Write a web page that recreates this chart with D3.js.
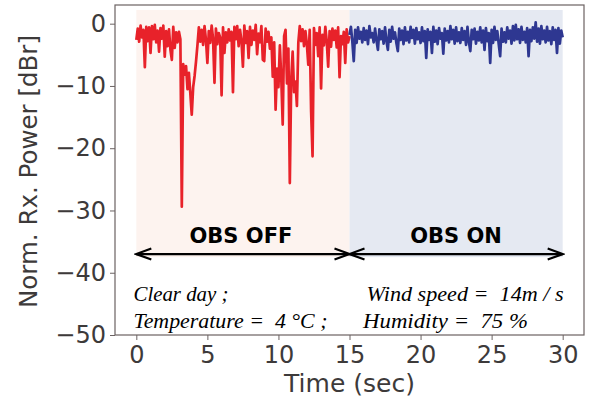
<!DOCTYPE html>
<html>
<head>
<meta charset="utf-8">
<script src="https://cdn.jsdelivr.net/npm/d3@7"></script>
<style>
  html, body { margin: 0; padding: 0; background: #fff; }
  svg { display: block; }
</style>
</head>
<body>
<svg id="chart" width="589" height="400"></svg>
<script>
// ---------- data ----------
const timeStep = 0.1;            // seconds between samples
const obsOffStart = 0;           // OBS OFF series starts at t = 0 s
const obsOnStart = 15;           // OBS ON series starts at t = 15 s

// Normalised Rx power [dBr], OBS OFF (t = 0 ... 15 s)
const obsOffPower = [
  -2.6, -0.8, -2.9, -0.3, -2.2, -1.0, -7.0, -0.5, -2.8, -0.6,
  -4.7, -0.4, -2.5, -0.2, -3.0, -1.1, -4.5, -0.7, -2.4, -0.3,
  -5.3, -1.2, -3.6, -0.9, -4.2, -5.8, -0.5, -3.9, -1.4, -3.0,
  -1.3, -2.5, -29.4, -6.5, -8.2, -6.8, -10.5, -7.9, -11.2, -14.6,
  -10.2, -8.4, -6.1, -3.5, -0.6, -2.9, -1.0, -3.4, -0.4, -2.6,
  -6.3, -1.2, -3.1, -0.3, -2.4, -9.5, -0.8, -3.3, -1.5, -2.2,
  -11.5, -0.6, -4.7, -1.4, -3.0, -0.9, -2.7, -1.3, -11.0, -0.5,
  -2.5, -0.4, -3.6, -1.0, -2.8, -6.9, -0.3, -3.1, -1.2, -5.5,
  -0.5, -3.4, -1.1, -2.6, -0.2, -4.9, -1.6, -3.0, -0.4, -5.8,
  -6.0, -0.8, -2.9, -1.3, -4.0, -2.2, -8.5, -3.0, -13.8, -7.2,
  -10.2, -3.5, -8.8, -16.2, -2.0, -1.0, -9.6, -4.0, -25.6, -8.9,
  -4.5, -11.0, -9.3, -13.2, -3.0, -0.4, -2.8, -0.9, -3.6, -1.2,
  -3.3, -6.6, -1.0, -14.1, -21.3, -0.7, -3.4, -1.5, -5.2, -0.6,
  -10.4, -1.8, -3.5, -0.5, -2.9, -6.9, -1.2, -3.7, -0.8, -2.6,
  -1.1, -3.8, -0.6, -8.6, -2.0, -3.3, -1.3, -6.3, -0.9, -3.0, -2.0
];

// Normalised Rx power [dBr], OBS ON (t = 15 ... 30 s)
const obsOnPower = [
  -1.8, -0.5, -2.9, -6.0, -1.0, -3.1, -0.6, -2.4, -1.3, -3.0,
  -0.7, -2.6, -1.1, -3.3, -0.4, -2.2, -1.5, -3.0, -0.8, -2.7,
  -4.2, -0.9, -2.5, -1.2, -3.2, -0.6, -2.8, -4.2, -1.0, -2.9,
  -0.5, -2.4, -1.4, -3.1, -4.4, -0.8, -2.6, -1.1, -3.3, -0.6,
  -2.7, -1.3, -3.0, -0.5, -2.3, -1.0, -3.2, -0.7, -2.5, -1.4,
  -3.1, -0.6, -2.8, -1.2, -5.5, -0.9, -2.6, -1.3, -4.7, -0.5,
  -2.9, -1.1, -3.3, -0.7, -2.4, -1.5, -4.8, -0.8, -2.7, -1.2,
  -3.0, -0.4, -2.5, -1.0, -3.2, -0.6, -2.8, -1.4, -3.1, -0.7,
  -2.6, -1.2, -3.4, -0.5, -2.9, -4.4, -1.0, -2.5, -0.8, -3.2,
  -1.3, -2.7, -0.6, -3.0, -1.1, -4.2, -0.7, -2.8, -1.5, -6.3,
  -1.0, -3.1, -0.5, -2.6, -1.2, -3.3, -5.2, -0.8, -2.9, -1.4,
  -3.0, -0.6, -2.4, -1.1, -3.2, -0.4, -2.7, -0.2, -2.5, -0.9,
  -3.1, -0.5, -2.6, -1.3, -3.0, -0.7, -5.2, -1.0, -2.8, -0.6,
  -2.4, 0.2, -2.9, -0.8, -3.2, -0.4, -2.5, -1.1, -3.0, -0.5,
  -2.7, -1.2, -3.3, -0.6, -2.6, -1.0, -4.7, -0.7, -3.2, -1.1, -2.2
];

// shaded phases and arrows: [start s, end s]
const phases = [
  { label: "OBS OFF", start: 0, end: 15 },
  { label: "OBS ON",  start: 15, end: 30 }
];
const shadeTop = 2.2, shadeBottom = -37.5, arrowLevel = -37.0, phaseLabelLevel = -35.2;

const xTicks = [0, 5, 10, 15, 20, 25, 30];
const yTicks = [0, -10, -20, -30, -40, -50];
const xLabel = "Time (sec)";
const yLabel = "Norm. Rx. Power [dBr]";
const notes = [
  { text: "Clear day ;",            t: -0.2, v: -44.6, width: 95 },
  { text: "Temperature =  4 °C ;",  t: -0.2, v: -48.9, width: 194 },
  { text: "Wind speed =  14m / s",  t: 16.2, v: -44.6, width: 197 },
  { text: "Humidity =  75 %",       t: 15.95, v: -48.9, width: 165 }
];

// ---------- layout ----------
const svg = d3.select("#chart");
const L = 115, R = 584, T = 5, B = 335;
const x = d3.scaleLinear().domain([-1.5, 31.5]).range([L, R]);
const y = d3.scaleLinear().domain([-50, 3]).range([B, T]);

const offData = obsOffPower.map((v, i) => ({ t: obsOffStart + i * timeStep, v }));
const onData  = obsOnPower.map((v, i) => ({ t: obsOnStart + i * timeStep, v }));

// shading
const shadeColors = ["#fdf3ef", "#e5e9f2"];
svg.selectAll("rect.shade").data(phases).join("rect")
  .attr("class", "shade")
  .attr("x", d => x(d.start))
  .attr("width", d => x(d.end) - x(d.start))
  .attr("y", y(shadeTop))
  .attr("height", y(shadeBottom) - y(shadeTop))
  .attr("fill", (d, i) => shadeColors[i]);

// lines
const line = d3.line().x(d => x(d.t)).y(d => y(d.v));
svg.append("path").datum(offData)
  .attr("d", line).attr("fill", "none")
  .attr("stroke", "#e8222a").attr("stroke-width", 2.7).attr("stroke-linejoin", "round");
svg.append("path").datum(onData)
  .attr("d", line).attr("fill", "none")
  .attr("stroke", "#2e3791").attr("stroke-width", 2.7).attr("stroke-linejoin", "round");

// axes
const axisColor = "#6b6262", textColor = "#3d3a3a";
const fmt = d3.format("");
const gx = svg.append("g").attr("transform", `translate(0,${B})`)
  .call(d3.axisBottom(x).tickValues(xTicks).tickSize(5).tickPadding(6).tickFormat(fmt));
const gy = svg.append("g").attr("transform", `translate(${L},0)`)
  .call(d3.axisLeft(y).tickValues(yTicks).tickSize(5).tickPadding(4).tickFormat(fmt));
[gx, gy].forEach(g => {
  g.select(".domain").remove();
  g.selectAll(".tick line").attr("stroke", axisColor).attr("stroke-width", 1);
  g.selectAll(".tick text")
    .attr("fill", textColor)
    .style("font-family", "'DejaVu Sans', sans-serif")
    .style("font-size", "24px");
});

// frame
svg.append("rect")
  .attr("x", L).attr("y", T).attr("width", R - L).attr("height", B - T)
  .attr("fill", "none").attr("stroke", axisColor).attr("stroke-width", 1.2);

// axis titles
svg.append("text")
  .attr("x", 349.5).attr("y", 392)
  .attr("text-anchor", "middle")
  .attr("fill", textColor)
  .style("font-family", "'DejaVu Sans', sans-serif").style("font-size", "25px")
  .text(xLabel);
svg.append("text")
  .attr("transform", `translate(37,171.5) rotate(-90)`)
  .attr("text-anchor", "middle")
  .attr("fill", textColor)
  .style("font-family", "'DejaVu Sans', sans-serif").style("font-size", "24.5px")
  .text(yLabel);

// arrows
const defs = svg.append("defs");
function chevron(id, dir) {
  defs.append("marker")
    .attr("id", id).attr("markerUnits", "userSpaceOnUse")
    .attr("viewBox", "-18 -8 20 16").attr("refX", 0).attr("refY", 0)
    .attr("markerWidth", 20).attr("markerHeight", 16)
    .attr("orient", dir)
    .append("path").attr("d", "M-15,-5.5 L0,0 L-15,5.5")
    .attr("fill", "none").attr("stroke", "#000").attr("stroke-width", 2.2)
    .attr("stroke-linejoin", "miter");
}
chevron("arrowEnd", "auto");
chevron("arrowStart", "auto-start-reverse");
svg.selectAll("line.arrow").data(phases).join("line")
  .attr("class", "arrow")
  .attr("x1", d => x(d.start)).attr("x2", d => x(d.end))
  .attr("y1", y(arrowLevel)).attr("y2", y(arrowLevel))
  .attr("stroke", "#000").attr("stroke-width", 2.2)
  .attr("marker-start", "url(#arrowStart)").attr("marker-end", "url(#arrowEnd)");

// phase labels
svg.selectAll("text.phase").data(phases).join("text")
  .attr("class", "phase")
  .attr("x", d => x((d.start + d.end) / 2) - (d.start === 0 ? 2 : 0))
  .attr("y", y(phaseLabelLevel))
  .attr("text-anchor", "middle")
  .attr("fill", "#000")
  .style("font-family", "'DejaVu Sans', sans-serif")
  .style("font-weight", "bold").style("font-size", "21px")
  .text(d => d.label);

// weather notes
svg.selectAll("text.note").data(notes).join("text")
  .attr("class", "note")
  .attr("x", d => x(d.t)).attr("y", d => y(d.v))
  .attr("fill", "#000")
  .attr("textLength", d => d.width).attr("lengthAdjust", "spacingAndGlyphs")
  .style("font-family", "'Liberation Serif', serif")
  .style("font-style", "italic").style("font-size", "21px")
  .attr("xml:space", "preserve")
  .text(d => d.text);
</script>
</body>
</html>
